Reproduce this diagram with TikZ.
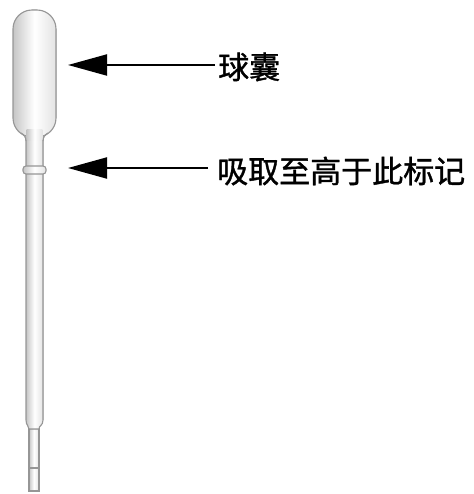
\documentclass[tikz,border=0pt]{standalone}
\usepackage{fontspec}
\newfontfamily\cjk[FakeBold=1.2]{Noto Sans CJK SC}
\usetikzlibrary{arrows.meta}
\definecolor{rim}{RGB}{150,150,150}
\begin{document}
\begin{tikzpicture}[x=1pt,y=-1pt,
  glass/.style={draw=rim,line width=1.1pt,left color=gray!45,right color=gray!22,middle color=white,shading angle=90},
  label/.style={anchor=west,inner sep=0pt,font=\cjk\fontsize{31}{31}\selectfont},
  pointer/.style={line width=2pt,-{Triangle[length=39pt,width=21pt]},shorten <=3pt}]
\useasboundingbox (0,0) rectangle (473,494);
% narrow tip
\fill[glass] (29,420) rectangle (39,491);
\draw[rim,line width=1.1pt] (29,468) -- (39,468);
% long stem with a shoulder down to the tip
\fill[glass] (26,128) -- (26,420) .. controls (26,426) and (29,425) .. (29,429)
  -- (39,429) .. controls (39,425) and (43,426) .. (43,420) -- (43,128) -- cycle;
% bulb
\fill[glass,rounded corners=19pt] (13,10) rectangle (56,137);
\fill[left color=gray!45,right color=gray!22,middle color=white,shading angle=90]
  (26.6,130) rectangle (42.4,141);
\draw[rim,line width=1.1pt] (26,141) .. controls (26,137) and (24,135) .. (21,133);
\draw[rim,line width=1.1pt] (43,141) .. controls (43,137) and (45,135) .. (48,133);
% fill line ring
\node[glass,rounded corners=3pt,minimum width=23pt,minimum height=8pt,inner sep=0pt] (ring) at (34.5,170) {};
\node[inner sep=0pt] (bulb) at (34.5,72) {};
% labels and pointers
\coordinate (tipA) at (68,65);
\coordinate (tipB) at (68,168);
\node[label] (lblA) at (218,67) {球囊};
\node[label] (lblB) at (217,171) {吸取至高于此标记};
\draw[pointer] (lblA.west) ++(0,-2) -- (tipA);
\draw[pointer,shorten <=9pt] (lblB.west) ++(0,-3) -- (tipB);
\end{tikzpicture}
\end{document}
